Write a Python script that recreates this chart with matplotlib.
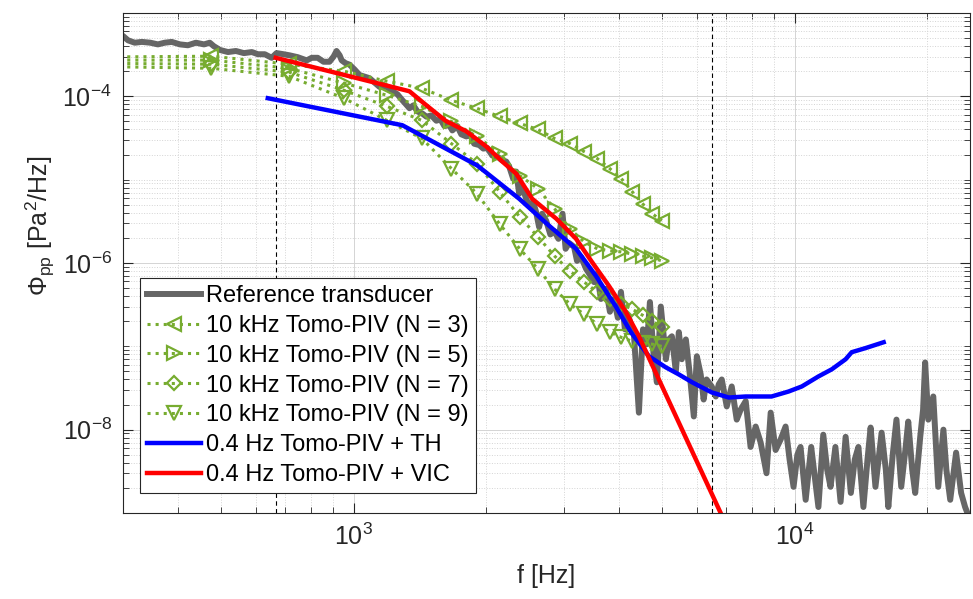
import numpy as np
import matplotlib
matplotlib.use('Agg')
import matplotlib.pyplot as plt
from matplotlib.ticker import LogLocator, FixedLocator, NullFormatter

plt.rcParams.update({'font.family': 'Liberation Sans',
                     'mathtext.fontset': 'custom',
                     'mathtext.rm': 'Liberation Sans',
                     'mathtext.it': 'Liberation Sans:italic',
                     'mathtext.bf': 'Liberation Sans:bold'})

# reference transducer spectrum
ref_freq = [290,
            300, 308, 319, 331, 346, 360, 373, 387, 404, 421,
            439, 458, 472, 482, 498, 519, 541, 564, 588, 607,
            629, 652, 669, 694, 717, 747, 783, 804, 829, 855,
            882, 901, 915, 930, 940, 959, 979, 1005, 1032, 1087,
            1145, 1188, 1225, 1257, 1290, 1339, 1367, 1395, 1433, 1463,
            1501, 1541, 1574, 1607, 1649, 1675, 1718, 1755, 1802, 1839,
            1877, 1928, 1969, 2010, 2063, 2117, 2174, 2219, 2254, 2301,
            2338, 2375, 2413, 2463, 2502, 2554, 2594, 2635, 2677, 2735,
            2794, 2854, 2915, 2978, 3026, 3081, 3163, 3212, 3281, 3368,
            3437, 3511, 3565, 3639, 3737, 3814, 3894, 3975, 4040, 4125,
            4212, 4323, 4437, 4532, 4628, 4700, 4799, 4874, 4975, 5110,
            5188, 5271, 5381, 5466, 5552, 5670, 5788, 5911, 6005, 6127,
            6222, 6318, 6489, 6630, 6733, 6839, 7020, 7205, 7395, 7550,
            7750, 7950, 8165, 8380, 8640, 8830, 9060, 9300, 9545, 9745,
            9950, 10150, 10320, 10600, 10910, 11140, 11330, 11620, 11860, 12070,
            12380, 12720, 13060, 13420, 13700, 13960, 14330, 14640, 14880, 15260,
            15760, 16110, 16320, 16700, 17030, 17460, 17840, 18110, 18490, 18780,
            19280, 19570, 19780, 20110, 20640, 20960, 21180, 21760, 22100, 22550,
            23250, 23870, 24370, 24760, 25500]
ref_psd = [5.3e-4,
           5.3e-4, 4.7e-4, 4.4e-4, 4.5e-4, 4.4e-4, 4.2e-4, 4.4e-4, 4.5e-4, 4.2e-4, 4.1e-4,
           4.4e-4, 4.2e-4, 4.4e-4, 4.0e-4, 3.6e-4, 3.4e-4, 3.5e-4, 3.3e-4, 3.4e-4, 3.2e-4,
           3.2e-4, 2.9e-4, 3.3e-4, 3.2e-4, 3.1e-4, 2.95e-4, 2.7e-4, 2.9e-4, 2.9e-4, 2.6e-4,
           2.6e-4, 3.0e-4, 3.5e-4, 3.1e-4, 2.7e-4, 2.5e-4, 2.4e-4, 2.1e-4, 1.8e-4, 1.65e-4,
           1.3e-4, 1.3e-4, 1.15e-4, 1.06e-4, 9.0e-5, 7.2e-5, 7.8e-5, 6.6e-5, 6.2e-5, 5.7e-5,
           5.9e-5, 5.1e-5, 5.3e-5, 4.4e-5, 4.5e-5, 3.9e-5, 4.4e-5, 3.5e-5, 3.3e-5, 3.5e-5,
           2.7e-5, 2.6e-5, 2.36e-5, 2.4e-5, 1.95e-5, 1.9e-5, 1.7e-5, 1.65e-5, 1.44e-5, 1.03e-5,
           1.25e-5, 6.8e-6, 8.2e-6, 5.9e-6, 4.9e-6, 5.4e-6, 4.1e-6, 2.7e-6, 3.9e-6, 3.2e-6,
           2.2e-6, 2.4e-6, 1.95e-6, 3.9e-6, 1.48e-6, 1.74e-6, 1.56e-6, 1.06e-6, 1.18e-6, 8.5e-7,
           7.2e-7, 5.9e-7, 7.4e-7, 3.7e-7, 4.9e-7, 2.6e-7, 3.7e-7, 2.2e-7, 4.5e-7, 1.6e-7,
           2.2e-7, 1.4e-7, 1.6e-8, 1.6e-7, 1.06e-7, 3.4e-7, 7.0e-8, 3.7e-8, 3.0e-7, 7.0e-8,
           1.21e-7, 1.32e-7, 5.0e-8, 1.48e-7, 7.0e-8, 1.21e-7, 4.6e-8, 1.44e-8, 7.6e-8, 4.6e-8,
           2.3e-8, 4.0e-8, 3.3e-8, 2.5e-8, 3.5e-8, 4.0e-8, 1.9e-8, 3.3e-8, 1.32e-8, 1.74e-8,
           2.2e-8, 6.2e-9, 1.09e-8, 7.0e-9, 3.0e-9, 1.6e-8, 5.7e-9, 7.6e-9, 1.09e-8, 4.4e-9,
           2.06e-9, 5.0e-9, 6.2e-9, 1.44e-9, 6.2e-9, 2.5e-9, 1.18e-9, 8.7e-9, 3.3e-9, 2.06e-9,
           6.2e-9, 1.36e-9, 8.2e-9, 1.74e-9, 4.4e-9, 6.2e-9, 1.18e-9, 4.4e-9, 1.06e-8, 2.06e-9,
           9.2e-9, 3.3e-9, 1.18e-9, 5.0e-9, 1.32e-8, 2.06e-9, 5.7e-9, 1.25e-8, 3.3e-9, 1.74e-9,
           8.2e-9, 1.74e-8, 6.4e-8, 1.32e-8, 2.5e-8, 5.7e-9, 2.06e-9, 1.0e-8, 3.3e-9, 1.44e-9,
           5.3e-9, 1.74e-9, 1.18e-9, 9.5e-10, 9.0e-10]

# 10 kHz Tomo-PIV spectra
tomo_freq = [238, 476, 714, 952, 1190, 1429, 1667, 1905, 2143, 2381, 2619,
             2857, 3095, 3333, 3571, 3810, 4048, 4286, 4524, 4762, 5000]
tomo_n3 = [2.95e-4, 3.03e-4, 2.43e-4, 2.00e-4, 1.52e-4, 1.25e-4, 8.95e-5, 7.17e-5, 5.74e-5, 4.73e-5, 4.00e-5,
           3.12e-5, 2.71e-5, 2.17e-5, 1.79e-5, 1.36e-5, 1.03e-5, 7.17e-6, 5.14e-6, 3.89e-6, 3.21e-6]
tomo_n5 = [2.72e-4, 2.72e-4, 2.17e-4, 1.44e-4, 1.03e-4, 7.58e-5, 5.00e-5, 3.30e-5, 2.06e-5, 1.12e-5, 7.8e-6,
           4.48e-6, 2.57e-6, 1.79e-6, 1.48e-6, 1.40e-6, 1.36e-6, 1.28e-6, 1.21e-6, 1.15e-6, 1.06e-6]
tomo_n7 = [2.50e-4, 2.43e-4, 1.95e-4, 1.18e-4, 7.58e-5, 5.14e-5, 2.71e-5, 1.56e-5, 7.17e-6, 3.58e-6, 2.06e-6,
           1.21e-6, 8.01e-7, 5.91e-7, 4.48e-7, 3.68e-7, 3.21e-7, 2.79e-7, 2.36e-7, 2.00e-7, 1.69e-7]
tomo_n9 = [2.30e-4, 2.17e-4, 1.74e-4, 9.46e-5, 5.14e-5, 3.12e-5, 1.36e-5, 6.78e-6, 2.95e-6, 1.48e-6, 8.47e-7,
           4.86e-7, 3.21e-7, 2.43e-7, 1.84e-7, 1.48e-7, 1.28e-7, 1.15e-7, 1.09e-7, 1.06e-7, 1.00e-7]

# 0.4 Hz Tomo-PIV + TH
th_freq = [639, 1290, 1908, 2375, 2776, 3196, 3545, 3935, 4255, 4675, 5105, 5466,
           5860, 6489, 7093, 7750, 8870, 9697, 10390, 11330, 12150, 13060, 13480, 14470, 15930]
th_psd = [9.5e-5, 4.5e-5, 1.48e-5, 5.9e-6, 2.8e-6, 1.48e-6, 7.0e-7, 3.0e-7, 1.48e-7, 7.6e-8, 5.6e-8, 4.6e-8,
          3.7e-8, 2.8e-8, 2.43e-8, 2.5e-8, 2.5e-8, 2.87e-8, 3.3e-8, 4.35e-8, 5.3e-8, 7.0e-8, 8.5e-8, 9.5e-8, 1.12e-7]

# 0.4 Hz Tomo-PIV + VIC
vic_freq = [666, 1339, 1463, 1616, 1802, 2000, 2174, 2338, 2541, 2883, 3196, 3472, 3795, 4148, 4437, 6800, 7093]
vic_psd = [2.9e-4, 1.15e-4, 7.8e-5, 5.1e-5, 3.8e-5, 2.5e-5, 1.65e-5, 1.18e-5, 5.9e-6, 3.4e-6, 1.95e-6,
           1.03e-6, 5.3e-7, 2.57e-7, 1.32e-7, 1.0e-9, 6.2e-10]

cutoffs = [667, 6500]

green = '#77AC30'

fig = plt.figure(figsize=(9.73, 5.99), dpi=100)
ax = fig.add_axes([0.1264, 0.1436, 0.8705, 0.8347])
ax.set_xscale('log')
ax.set_yscale('log')

for c in cutoffs:
    ax.axvline(c, color='k', ls=(0, (4, 3)), lw=0.8, zorder=1.5)

ax.plot(ref_freq, ref_psd, color='#666666', lw=4.3, label='Reference transducer')
for vals, mk, ms, n in [(tomo_n3, '<', 10, 3), (tomo_n5, '>', 10, 5),
                        (tomo_n7, 'D', 7.5, 7), (tomo_n9, 'v', 10, 9)]:
    ax.plot(tomo_freq, vals, ls=':', lw=2.2, color=green, marker=mk, ms=ms,
            mfc='none', mec=green, mew=1.6, label='10 kHz Tomo-PIV (N = %d)' % n)
ax.plot(th_freq, th_psd, color='#0000FF', lw=3.2, label='0.4 Hz Tomo-PIV + TH')
ax.plot(vic_freq, vic_psd, color='#FF0000', lw=3.2, label='0.4 Hz Tomo-PIV + VIC')

ax.set_xlim(300, 25000)
ax.set_ylim(1e-9, 1e-3)
ax.xaxis.set_major_locator(FixedLocator([1e3, 1e4]))
ax.yaxis.set_major_locator(FixedLocator([1e-8, 1e-6, 1e-4]))
for axis in (ax.xaxis, ax.yaxis):
    axis.set_minor_locator(LogLocator(base=10, subs=np.arange(1, 10), numticks=100))
    axis.set_minor_formatter(NullFormatter())

ax.grid(True, which='major', color='#d4d4d4', lw=0.7, ls='-')
ax.grid(True, which='minor', color='#d4d4d4', lw=0.7, ls=':')
ax.set_axisbelow(True)
ax.tick_params(which='both', direction='in', top=True, right=True, colors='#262626', labelsize=18)
ax.tick_params(which='major', length=7, width=0.8, pad=8)
ax.tick_params(which='minor', length=4, width=0.6)
for s in ax.spines.values():
    s.set_color('#262626')
    s.set_linewidth(0.8)

ax.set_xlabel('f [Hz]', fontsize=18, color='#262626', labelpad=10)
ax.set_ylabel(r'$\Phi_{\mathrm{pp}}$ [Pa$^{2}$/Hz]', fontsize=18, color='#262626')
ax.yaxis.set_label_coords(-0.078, 0.574)

leg = ax.legend(loc='lower left', bbox_to_anchor=(0.02, 0.04), borderaxespad=0,
                fontsize=17, handlelength=2.3, handletextpad=0.2, labelspacing=0.33,
                borderpad=0.3, fancybox=False, framealpha=1, edgecolor='#262626')
leg.get_frame().set_linewidth(0.8)

fig.savefig('out.png', dpi=100)
